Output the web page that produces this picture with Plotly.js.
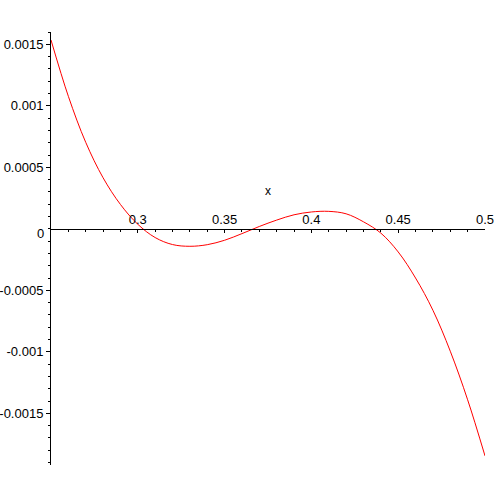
<!DOCTYPE html>
<html>
<head>
<meta charset="utf-8">
<script src="https://cdn.plot.ly/plotly-3.0.1.min.js"></script>
<style>html,body{margin:0;padding:0;background:#fff;}#chart{width:497px;height:497px;}</style>
</head>
<body>
<div id="chart"></div>
<script>
const xValues = [0.25,0.26,0.27,0.28,0.29,0.30,0.31,0.32,0.33,0.34,0.35,0.36,0.37,0.38,0.39,0.40,0.41,0.42,0.43,0.44,0.45,0.46,0.47,0.48,0.49,0.50];
const yValues = [0.001535,0.001077,0.000703,0.000415,0.000198,0.000037,-0.000071,-0.000128,-0.000142,-0.000129,-0.000093,-0.000039,0.000019,0.000071,0.000114,0.000137,0.000142,0.000122,0.000057,-0.000035,-0.000188,-0.0004,-0.000662,-0.000995,-0.00139,-0.001846];
const xTickVals = [0.3,0.35,0.4,0.45,0.5];
const xTickText = ["0.3","0.35","0.4","0.45","0.5"];
const yTickVals = [-0.0015,-0.001,-0.0005,0.0005,0.001,0.0015];
const yTickText = ["-0.0015","-0.001","-0.0005","0.0005","0.001","0.0015"];
const xRange = [0.25,0.5];
const yRange = [-0.00192,0.0016];

const zeroPos = (0 - yRange[0])/(yRange[1]-yRange[0]);
const font = {family:"Liberation Sans, Arial, sans-serif", size:13, color:"#000"};

Plotly.newPlot("chart", [{
  x: xValues, y: yValues, type:"scatter", mode:"lines",
  line:{color:"#ff0000", width:1, shape:"spline", smoothing:1},
  hoverinfo:"skip"
}], {
  width:497, height:497,
  margin:{l:51, r:12, t:32, b:32, pad:0},
  paper_bgcolor:"#fff", plot_bgcolor:"#fff",
  showlegend:false,
  font: font,
  xaxis:{
    range:xRange, anchor:"free", position:zeroPos, side:"top",
    showgrid:false, zeroline:false, showline:true, linecolor:"#000", linewidth:1,
    tickmode:"array", tickvals:xTickVals, ticktext:xTickText,
    ticks:"inside", ticklen:3, tickcolor:"#000", tickwidth:1,
    minor:{tick0:0.25, dtick:0.01, ticks:"inside", ticklen:2, tickcolor:"#000", tickwidth:1, showgrid:false},
    tickfont:font, fixedrange:true
  },
  yaxis:{
    range:yRange, showgrid:false, zeroline:false, showline:true, linecolor:"#000", linewidth:1,
    tickmode:"array", tickvals:yTickVals, ticktext:yTickText,
    ticks:"outside", ticklen:4, tickcolor:"#000", tickwidth:1,
    minor:{tick0:0, dtick:0.0001, ticks:"outside", ticklen:2, tickcolor:"#000", tickwidth:1, showgrid:false},
    tickfont:font, fixedrange:true
  },
  annotations:[
    {text:"x", x:0.375, y:0.00031, xref:"x", yref:"y", showarrow:false, font:{family:font.family, size:12, color:"#000"}},
    {text:"0", x:0, xref:"paper", y:0, yref:"y", xanchor:"right", yanchor:"middle", xshift:-5, yshift:-5, showarrow:false, font:font}
  ]
}, {staticPlot:true});
</script>
</body>
</html>
